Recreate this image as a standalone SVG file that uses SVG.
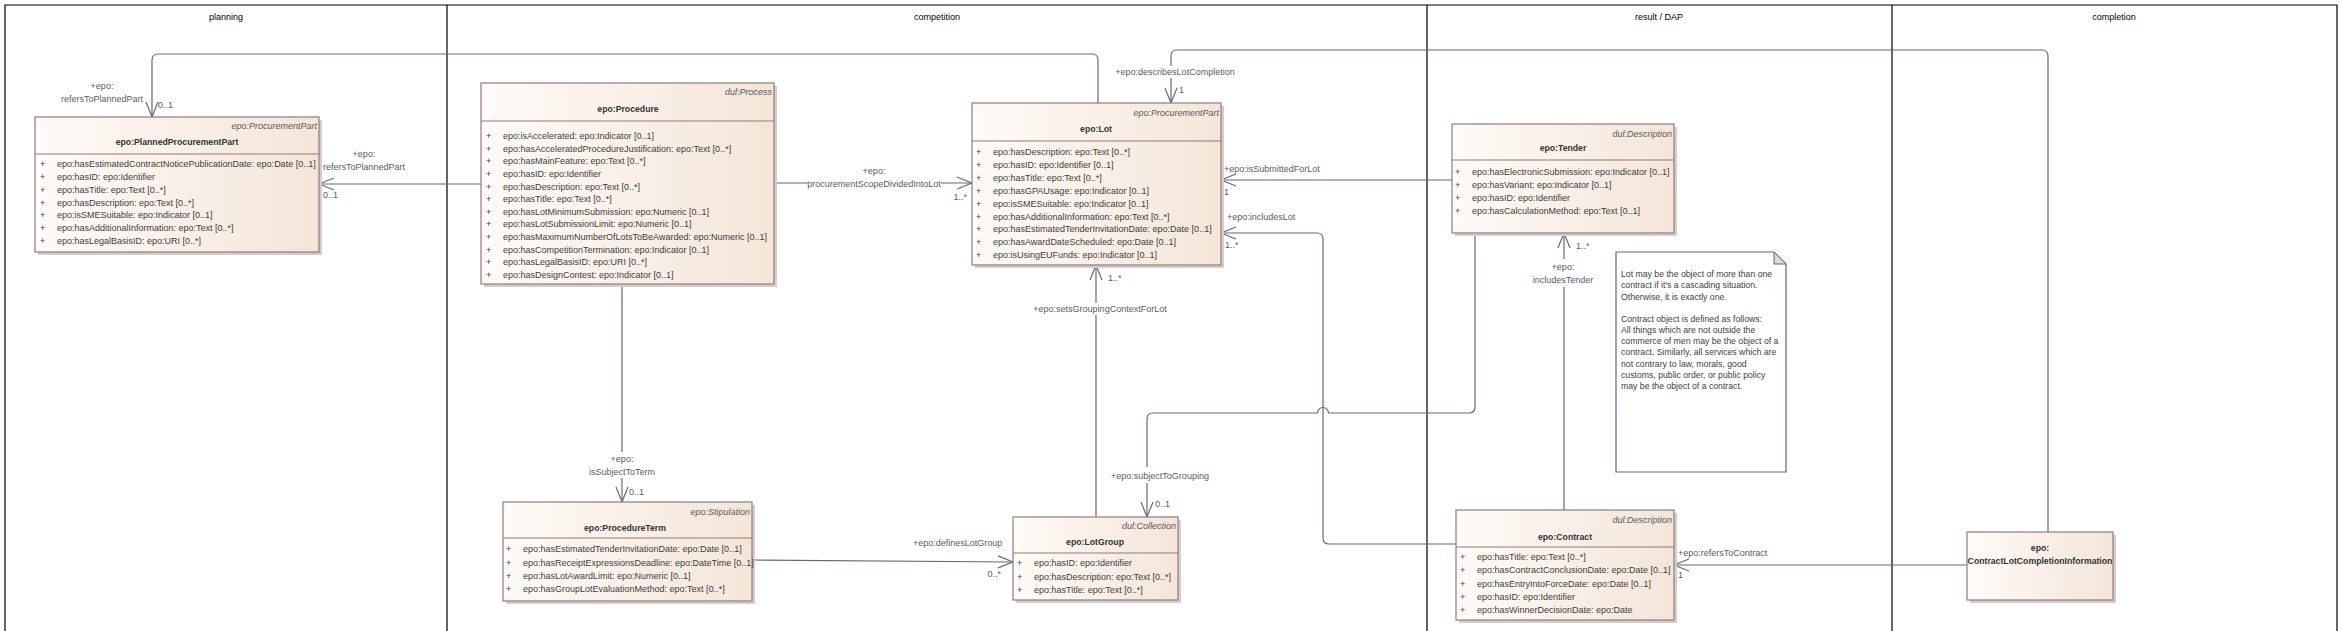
<svg xmlns="http://www.w3.org/2000/svg" width="2342" height="631" viewBox="0 0 2342 631">
<defs>
<linearGradient id="g" x1="0" y1="0" x2="1" y2="0">
<stop offset="0" stop-color="#fefbf8"/>
<stop offset="1" stop-color="#f4e5d8"/>
</linearGradient>
<marker id="arr" markerUnits="userSpaceOnUse" markerWidth="18" markerHeight="14" viewBox="-16 -7 17 14" refX="0" refY="0" orient="auto">
<path d="M-15,-6 L0,0 L-15,6" fill="none" stroke="#5f6b7d" stroke-width="1.2"/>
</marker>
<style>
.lane{stroke:#000;stroke-width:1.2;fill:none}
.hdr{font-family:"Liberation Sans",Arial,sans-serif;font-size:9px;fill:#000;text-anchor:middle}
.box{fill:url(#g);stroke:#957a78;stroke-width:1.2}
.sh{fill:#cfcfcf}
.dv{stroke:#957a78;stroke-width:1.2}
.st{font-family:"Liberation Sans",Arial,sans-serif;font-size:9px;font-style:italic;fill:#5a5a5a;text-anchor:end}
.nm{font-family:"Liberation Sans",Arial,sans-serif;font-size:8.7px;font-weight:bold;fill:#333;text-anchor:middle}
.at{font-family:"Liberation Sans",Arial,sans-serif;font-size:9px;fill:#3d3d3d}
.c{stroke:#5f6b7d;stroke-width:1.2;fill:none}
.cl{font-family:"Liberation Sans",Arial,sans-serif;font-size:9px;fill:#555b68}
.mid{text-anchor:middle}
.end{text-anchor:end}
.note{fill:#fff;stroke:#5b6b80;stroke-width:1.2}
.nt{font-family:"Liberation Sans",Arial,sans-serif;font-size:8.7px;fill:#404040}
</style>
</defs>
<rect x="0" y="0" width="2342" height="631" fill="#fff"/>

<g id="lanes">
<path class="lane" d="M5,631 V5 H2337 V631 M447,5 V631 M1427,5 V631 M1892,5 V631"/>
<text class="hdr" x="226" y="20">planning</text>
<text class="hdr" x="937" y="20">competition</text>
<text class="hdr" x="1659" y="20">result / DAP</text>
<text class="hdr" x="2114" y="20">completion</text>
</g>

<g id="connectors">
<!-- Lot -> PlannedProcurementPart -->
<path class="c" d="M1098,103 V60 Q1098,54 1092,54 H158 Q152,54 152,60 V117" marker-end="url(#arr)"/>
<text class="cl mid" x="102" y="89">+epo:</text>
<text class="cl mid" x="102" y="102">refersToPlannedPart</text>
<text class="cl" x="158" y="108">0..1</text>
<!-- Procedure -> PlannedProcurementPart -->
<path class="c" d="M481,184 H319" marker-end="url(#arr)"/>
<text class="cl mid" x="364" y="157">+epo:</text>
<text class="cl mid" x="364" y="170">refersToPlannedPart</text>
<text class="cl" x="323" y="198">0..1</text>
<!-- Procedure -> Lot -->
<path class="c" d="M774,183 H808 M941,183 H972" marker-end="url(#arr)"/>
<text class="cl mid" x="874" y="174">+epo:</text>
<text class="cl mid" x="874" y="187">procurementScopeDividedIntoLot</text>
<text class="cl end" x="967" y="200">1..*</text>
<!-- Procedure -> ProcedureTerm -->
<path class="c" d="M622,284 V452 M622,478 V502" marker-end="url(#arr)"/>
<text class="cl mid" x="622" y="462">+epo:</text>
<text class="cl mid" x="622" y="475">isSubjectToTerm</text>
<text class="cl" x="629" y="495">0..1</text>
<!-- ProcedureTerm -> LotGroup -->
<path class="c" d="M752,560 L1013,562" marker-end="url(#arr)"/>
<text class="cl" x="913" y="546">+epo:definesLotGroup</text>
<text class="cl end" x="1001" y="577">0..*</text>
<!-- LotGroup -> Lot -->
<path class="c" d="M1096,517 V315 M1096,303 V265" marker-end="url(#arr)"/>
<text class="cl mid" x="1100" y="312">+epo:setsGroupingContextForLot</text>
<text class="cl" x="1108" y="281">1..*</text>
<!-- Tender -> Lot -->
<path class="c" d="M1452,180 H1221" marker-end="url(#arr)"/>
<text class="cl" x="1224" y="172">+epo:isSubmittedForLot</text>
<text class="cl" x="1224" y="195">1</text>
<!-- Contract -> Lot -->
<path class="c" d="M1456,544 H1329 Q1323,544 1323,538 V239 Q1323,233 1317,233 H1221" marker-end="url(#arr)"/>
<text class="cl" x="1227" y="220">+epo:includesLot</text>
<text class="cl" x="1225" y="248">1..*</text>
<!-- Contract -> Tender -->
<path class="c" d="M1564,510 V287 M1564,259 V233" marker-end="url(#arr)"/>
<text class="cl mid" x="1563" y="270">+epo:</text>
<text class="cl mid" x="1563" y="283">includesTender</text>
<text class="cl" x="1576" y="249">1..*</text>
<!-- Tender -> LotGroup -->
<path class="c" d="M1475,233 V407 Q1475,413 1469,413 H1328.5 A5.5,5.5 0 0 0 1317.5,413 H1153 Q1147,413 1147,419 V467 M1147,483 V517" marker-end="url(#arr)"/>
<text class="cl mid" x="1160" y="479">+epo:subjectToGrouping</text>
<text class="cl" x="1155" y="507">0..1</text>
<!-- ContractLotCompletionInformation -> Contract -->
<path class="c" d="M1967,565 H1674" marker-end="url(#arr)"/>
<text class="cl" x="1678" y="556">+epo:refersToContract</text>
<text class="cl" x="1678" y="578">1</text>
<!-- ContractLotCompletionInformation -> Lot -->
<path class="c" d="M2048,532 V56 Q2048,50 2042,50 H1177 Q1171,50 1171,56 V66 M1171,78 V103" marker-end="url(#arr)"/>
<text class="cl mid" x="1175" y="75">+epo:describesLotCompletion</text>
<text class="cl" x="1179" y="93">1</text>
</g>

<g id="PlannedProcurementPart">
<rect class="sh" x="38" y="120" width="284" height="135"/>
<rect class="box" x="35" y="117" width="284" height="135"/>
<line class="dv" x1="35" y1="154" x2="319" y2="154"/>
<text class="st" x="317" y="129">epo:ProcurementPart</text>
<text class="nm" x="177" y="145">epo:PlannedProcurementPart</text>
<text class="at" y="167"><tspan x="40">+</tspan><tspan x="57">epo:hasEstimatedContractNoticePublicationDate: epo:Date [0..1]</tspan></text>
<text class="at" y="180"><tspan x="40">+</tspan><tspan x="57">epo:hasID: epo:Identifier</tspan></text>
<text class="at" y="193"><tspan x="40">+</tspan><tspan x="57">epo:hasTitle: epo:Text [0..*]</tspan></text>
<text class="at" y="206"><tspan x="40">+</tspan><tspan x="57">epo:hasDescription: epo:Text [0..*]</tspan></text>
<text class="at" y="218"><tspan x="40">+</tspan><tspan x="57">epo:isSMESuitable: epo:Indicator [0..1]</tspan></text>
<text class="at" y="231"><tspan x="40">+</tspan><tspan x="57">epo:hasAdditionalInformation: epo:Text [0..*]</tspan></text>
<text class="at" y="244"><tspan x="40">+</tspan><tspan x="57">epo:hasLegalBasisID: epo:URI [0..*]</tspan></text>
</g>

<g id="Procedure">
<rect class="sh" x="484" y="86" width="293" height="201"/>
<rect class="box" x="481" y="83" width="293" height="201"/>
<line class="dv" x1="481" y1="121" x2="774" y2="121"/>
<text class="st" x="772" y="95">dul:Process</text>
<text class="nm" x="628" y="112">epo:Procedure</text>
<text class="at" y="139"><tspan x="486">+</tspan><tspan x="503">epo:isAccelerated: epo:Indicator [0..1]</tspan></text>
<text class="at" y="152"><tspan x="486">+</tspan><tspan x="503">epo:hasAcceleratedProcedureJustification: epo:Text [0..*]</tspan></text>
<text class="at" y="164"><tspan x="486">+</tspan><tspan x="503">epo:hasMainFeature: epo:Text [0..*]</tspan></text>
<text class="at" y="177"><tspan x="486">+</tspan><tspan x="503">epo:hasID: epo:Identifier</tspan></text>
<text class="at" y="190"><tspan x="486">+</tspan><tspan x="503">epo:hasDescription: epo:Text [0..*]</tspan></text>
<text class="at" y="202"><tspan x="486">+</tspan><tspan x="503">epo:hasTitle: epo:Text [0..*]</tspan></text>
<text class="at" y="215"><tspan x="486">+</tspan><tspan x="503">epo:hasLotMinimumSubmission: epo:Numeric [0..1]</tspan></text>
<text class="at" y="227"><tspan x="486">+</tspan><tspan x="503">epo:hasLotSubmissionLimit: epo:Numeric [0..1]</tspan></text>
<text class="at" y="240"><tspan x="486">+</tspan><tspan x="503">epo:hasMaximumNumberOfLotsToBeAwarded: epo:Numeric [0..1]</tspan></text>
<text class="at" y="253"><tspan x="486">+</tspan><tspan x="503">epo:hasCompetitionTermination: epo:Indicator [0..1]</tspan></text>
<text class="at" y="265"><tspan x="486">+</tspan><tspan x="503">epo:hasLegalBasisID: epo:URI [0..*]</tspan></text>
<text class="at" y="278"><tspan x="486">+</tspan><tspan x="503">epo:hasDesignContest: epo:Indicator [0..1]</tspan></text>
</g>

<g id="Lot">
<rect class="sh" x="975" y="106" width="249" height="162"/>
<rect class="box" x="972" y="103" width="249" height="162"/>
<line class="dv" x1="972" y1="141" x2="1221" y2="141"/>
<text class="st" x="1219" y="116">epo:ProcurementPart</text>
<text class="nm" x="1096" y="132">epo:Lot</text>
<text class="at" y="155"><tspan x="976">+</tspan><tspan x="993">epo:hasDescription: epo:Text [0..*]</tspan></text>
<text class="at" y="168"><tspan x="976">+</tspan><tspan x="993">epo:hasID: epo:Identifier [0..1]</tspan></text>
<text class="at" y="181"><tspan x="976">+</tspan><tspan x="993">epo:hasTitle: epo:Text [0..*]</tspan></text>
<text class="at" y="194"><tspan x="976">+</tspan><tspan x="993">epo:hasGPAUsage: epo:Indicator [0..1]</tspan></text>
<text class="at" y="207"><tspan x="976">+</tspan><tspan x="993">epo:isSMESuitable: epo:Indicator [0..1]</tspan></text>
<text class="at" y="220"><tspan x="976">+</tspan><tspan x="993">epo:hasAdditionalInformation: epo:Text [0..*]</tspan></text>
<text class="at" y="232"><tspan x="976">+</tspan><tspan x="993">epo:hasEstimatedTenderInvitationDate: epo:Date [0..1]</tspan></text>
<text class="at" y="245"><tspan x="976">+</tspan><tspan x="993">epo:hasAwardDateScheduled: epo:Date [0..1]</tspan></text>
<text class="at" y="258"><tspan x="976">+</tspan><tspan x="993">epo:isUsingEUFunds: epo:Indicator [0..1]</tspan></text>
</g>

<g id="Tender">
<rect class="sh" x="1455" y="127" width="222" height="109"/>
<rect class="box" x="1452" y="124" width="222" height="109"/>
<line class="dv" x1="1452" y1="160" x2="1674" y2="160"/>
<text class="st" x="1672" y="137">dul:Description</text>
<text class="nm" x="1563" y="151">epo:Tender</text>
<text class="at" y="175"><tspan x="1455">+</tspan><tspan x="1472">epo:hasElectronicSubmission: epo:Indicator [0..1]</tspan></text>
<text class="at" y="188"><tspan x="1455">+</tspan><tspan x="1472">epo:hasVariant: epo:Indicator [0..1]</tspan></text>
<text class="at" y="201"><tspan x="1455">+</tspan><tspan x="1472">epo:hasID: epo:Identifier</tspan></text>
<text class="at" y="214"><tspan x="1455">+</tspan><tspan x="1472">epo:hasCalculationMethod: epo:Text [0..1]</tspan></text>
</g>

<g id="Note">
<path class="note" d="M1616,252 H1774 L1786,264 V472 H1616 Z"/>
<path d="M1774,252 V264 H1786 Z" fill="#d9d9d9" stroke="#5b6b80" stroke-width="1"/>
<text class="nt">
<tspan x="1621" y="277">Lot may be the object of more than one</tspan>
<tspan x="1621" y="288">contract if it's a cascading situation.</tspan>
<tspan x="1621" y="300">Otherwise, it is exactly one.</tspan>
<tspan x="1621" y="322">Contract object is defined as follows:</tspan>
<tspan x="1621" y="333">All things which are not outside the</tspan>
<tspan x="1621" y="344">commerce of men may be the object of a</tspan>
<tspan x="1621" y="355">contract. Similarly, all services which are</tspan>
<tspan x="1621" y="367">not contrary to law, morals, good</tspan>
<tspan x="1621" y="378">customs, public order, or public policy</tspan>
<tspan x="1621" y="389">may be the object of a contract.</tspan>
</text>
</g>

<g id="ProcedureTerm">
<rect class="sh" x="506" y="505" width="249" height="99"/>
<rect class="box" x="503" y="502" width="249" height="99"/>
<line class="dv" x1="503" y1="538" x2="752" y2="538"/>
<text class="st" x="750" y="515">epo:Stipulation</text>
<text class="nm" x="625" y="531">epo:ProcedureTerm</text>
<text class="at" y="552"><tspan x="506">+</tspan><tspan x="523">epo:hasEstimatedTenderInvitationDate: epo:Date [0..1]</tspan></text>
<text class="at" y="566"><tspan x="506">+</tspan><tspan x="523">epo:hasReceiptExpressionsDeadline: epo:DateTime [0..1]</tspan></text>
<text class="at" y="579"><tspan x="506">+</tspan><tspan x="523">epo:hasLotAwardLimit: epo:Numeric [0..1]</tspan></text>
<text class="at" y="592"><tspan x="506">+</tspan><tspan x="523">epo:hasGroupLotEvaluationMethod: epo:Text [0..*]</tspan></text>
</g>

<g id="LotGroup">
<rect class="sh" x="1016" y="520" width="165" height="83"/>
<rect class="box" x="1013" y="517" width="165" height="83"/>
<line class="dv" x1="1013" y1="553" x2="1178" y2="553"/>
<text class="st" x="1176" y="529">dul:Collection</text>
<text class="nm" x="1095" y="545">epo:LotGroup</text>
<text class="at" y="566"><tspan x="1017">+</tspan><tspan x="1034">epo:hasID: epo:Identifier</tspan></text>
<text class="at" y="580"><tspan x="1017">+</tspan><tspan x="1034">epo:hasDescription: epo:Text [0..*]</tspan></text>
<text class="at" y="593"><tspan x="1017">+</tspan><tspan x="1034">epo:hasTitle: epo:Text [0..*]</tspan></text>
</g>

<g id="Contract">
<rect class="sh" x="1459" y="513" width="218" height="110"/>
<rect class="box" x="1456" y="510" width="218" height="110"/>
<line class="dv" x1="1456" y1="547" x2="1674" y2="547"/>
<text class="st" x="1672" y="523">dul:Description</text>
<text class="nm" x="1565" y="540">epo:Contract</text>
<text class="at" y="560"><tspan x="1460">+</tspan><tspan x="1477">epo:hasTitle: epo:Text [0..*]</tspan></text>
<text class="at" y="573"><tspan x="1460">+</tspan><tspan x="1477">epo:hasContractConclusionDate: epo:Date [0..1]</tspan></text>
<text class="at" y="587"><tspan x="1460">+</tspan><tspan x="1477">epo:hasEntryIntoForceDate: epo:Date [0..1]</tspan></text>
<text class="at" y="600"><tspan x="1460">+</tspan><tspan x="1477">epo:hasID: epo:Identifier</tspan></text>
<text class="at" y="613"><tspan x="1460">+</tspan><tspan x="1477">epo:hasWinnerDecisionDate: epo:Date</tspan></text>
</g>

<g id="ContractLotCompletionInformation">
<rect class="sh" x="1970" y="535" width="146" height="68"/>
<rect class="box" x="1967" y="532" width="146" height="68"/>
<text class="nm" x="2040" y="551">epo:</text>
<text class="nm" x="2040" y="564">ContractLotCompletionInformation</text>
</g>
</svg>
